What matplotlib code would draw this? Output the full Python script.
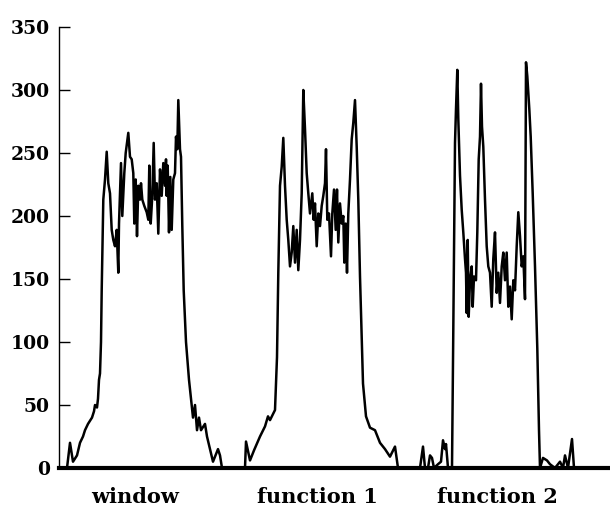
import numpy as np
import matplotlib.pyplot as plt

# scan position (arbitrary units) and intensity
win_x = [67, 70, 73, 77, 80, 83, 85, 88, 92, 94, 95, 97, 98, 99, 100, 101, 101.7, 103.3, 105, 106.7,
         108.3, 110, 111.7, 113.3, 115, 116.7, 118.3, 119, 121, 122.3, 124.3, 125.7, 128.3, 130, 131.7, 133.3, 134.3, 135.7, 137, 138.3,
         140, 141, 142.3, 144.3, 146.7, 148.3, 149.3, 150.7, 152.3, 153.7, 155, 156.7, 158.3, 160, 161.7, 163.3, 165, 166, 166.7, 167.7,
         169, 170.3, 171.7, 173.3, 175, 176, 177.3, 178.3, 180, 181, 182.3, 183.7, 186, 189, 191, 193, 195, 197, 199, 201,
         205, 207, 210, 213, 218, 220, 222]
win_y = [0, 20, 5, 10, 20, 25, 30, 35, 40, 45, 50, 48, 55, 70, 75, 100, 141, 213, 229, 251,
         226, 218, 189, 181, 176, 189, 155, 194, 242, 200, 234, 250, 266, 247, 245, 234, 194, 229, 184, 224,
         213, 226, 213, 208, 203, 197, 240, 194, 216, 258, 213, 226, 186, 237, 216, 242, 224, 245, 216, 240,
         187, 231, 189, 229, 234, 263, 253, 292, 253, 247, 192, 141, 100, 70, 55, 40, 50, 30, 40, 30,
         35, 25, 15, 5, 15, 10, 0]

f1_x = [245, 246, 250, 254, 260, 265, 268, 270, 275, 277, 278.3, 280, 281.7, 283.3, 285, 286.7, 288.3, 290, 291.7, 293.3,
        295, 296.7, 298.3, 300, 301.7, 303.3, 305, 306.7, 308.3, 310, 312.3, 313.7, 315, 316.7, 318.3, 320, 321.7, 323.3, 325, 326,
        327.3, 329, 331, 332.3, 334, 335.7, 337, 338.3, 340, 341.7, 343.3, 344.3, 345.7, 347, 348.3, 350, 351.7, 353.3, 355, 356.7,
        358.3, 360, 363, 366, 370, 375, 380, 385, 390, 395, 398]
f1_y = [0, 21, 6, 14, 25, 33, 41, 38, 46, 88, 155, 224, 239, 262, 224, 197, 181, 160, 171, 192,
        163, 189, 157, 181, 218, 300, 269, 234, 218, 202, 218, 197, 210, 176, 202, 192, 208, 216, 226, 253,
        197, 202, 168, 202, 221, 189, 221, 179, 210, 194, 200, 163, 194, 155, 202, 229, 261, 274, 292, 255,
        213, 152, 67, 41, 32, 30, 20, 15, 9, 17, 0]

f2_x = [420, 423, 425, 428, 430, 432, 434, 438, 441, 443, 445, 446, 448, 452, 453.3, 455, 456, 457.3, 458.3, 460,
        461.7, 463.3, 465, 466, 466.7, 467.7, 468.7, 470, 471.7, 472.7, 474, 476, 477.3, 478.7, 480, 481, 482, 483.3, 485, 486.7,
        488.3, 490, 491.7, 493.3, 495, 496.7, 498.3, 500, 501.7, 503.3, 505, 506.7, 508.3, 510, 511.7, 513.3, 515, 516.7, 518.3, 520,
        521.7, 523.3, 525, 526, 527.3, 529.3, 530.7, 532.7, 535, 537.3, 539, 540, 543, 547, 550, 555, 560, 563, 565, 568,
        572, 574]
f2_y = [0, 17, 0, 0, 10, 8, 0, 3, 5, 22, 15, 19, 0, 0, 110, 258, 285, 316, 277, 232,
        205, 187, 166, 155, 123, 181, 120, 149, 160, 128, 152, 149, 187, 245, 263, 305, 271, 255, 213, 176,
        160, 155, 128, 166, 187, 139, 155, 131, 160, 171, 149, 171, 128, 144, 118, 149, 141, 176, 203, 184,
        160, 168, 134, 322, 311, 285, 263, 218, 160, 95, 30, 0, 8, 6, 3, 0, 5, 0, 10, 0,
        23, 0]

labels = ["window", "function 1", "function 2"]
label_pos = [135, 317, 497]

plt.rcParams['font.family'] = ['DejaVu Serif']
plt.rcParams['font.weight'] = 'bold'

fig = plt.figure(figsize=(6.1, 5.14), dpi=100)
ax = fig.add_axes([59 / 610, 46 / 514, 551 / 610, 441 / 514])

for xs, ys in [(win_x, win_y), (f1_x, f1_y), (f2_x, f2_y)]:
    ax.plot(xs, ys, color="black", lw=1.8)

ax.set_xlim(59, 610)
ax.set_ylim(0, 350)
ax.set_yticks(np.arange(0, 351, 50))
ax.tick_params(axis="y", direction="in", length=8, width=1, pad=6.5, labelsize=13.5)
ax.set_xticks(label_pos)
ax.set_xticklabels(labels)
ax.tick_params(axis="x", length=0, pad=14, labelsize=15)

ax.spines["top"].set_visible(False)
ax.spines["right"].set_visible(False)
ax.spines["left"].set_linewidth(1)
ax.spines["bottom"].set_linewidth(3)

fig.savefig("out.png", dpi=100)
